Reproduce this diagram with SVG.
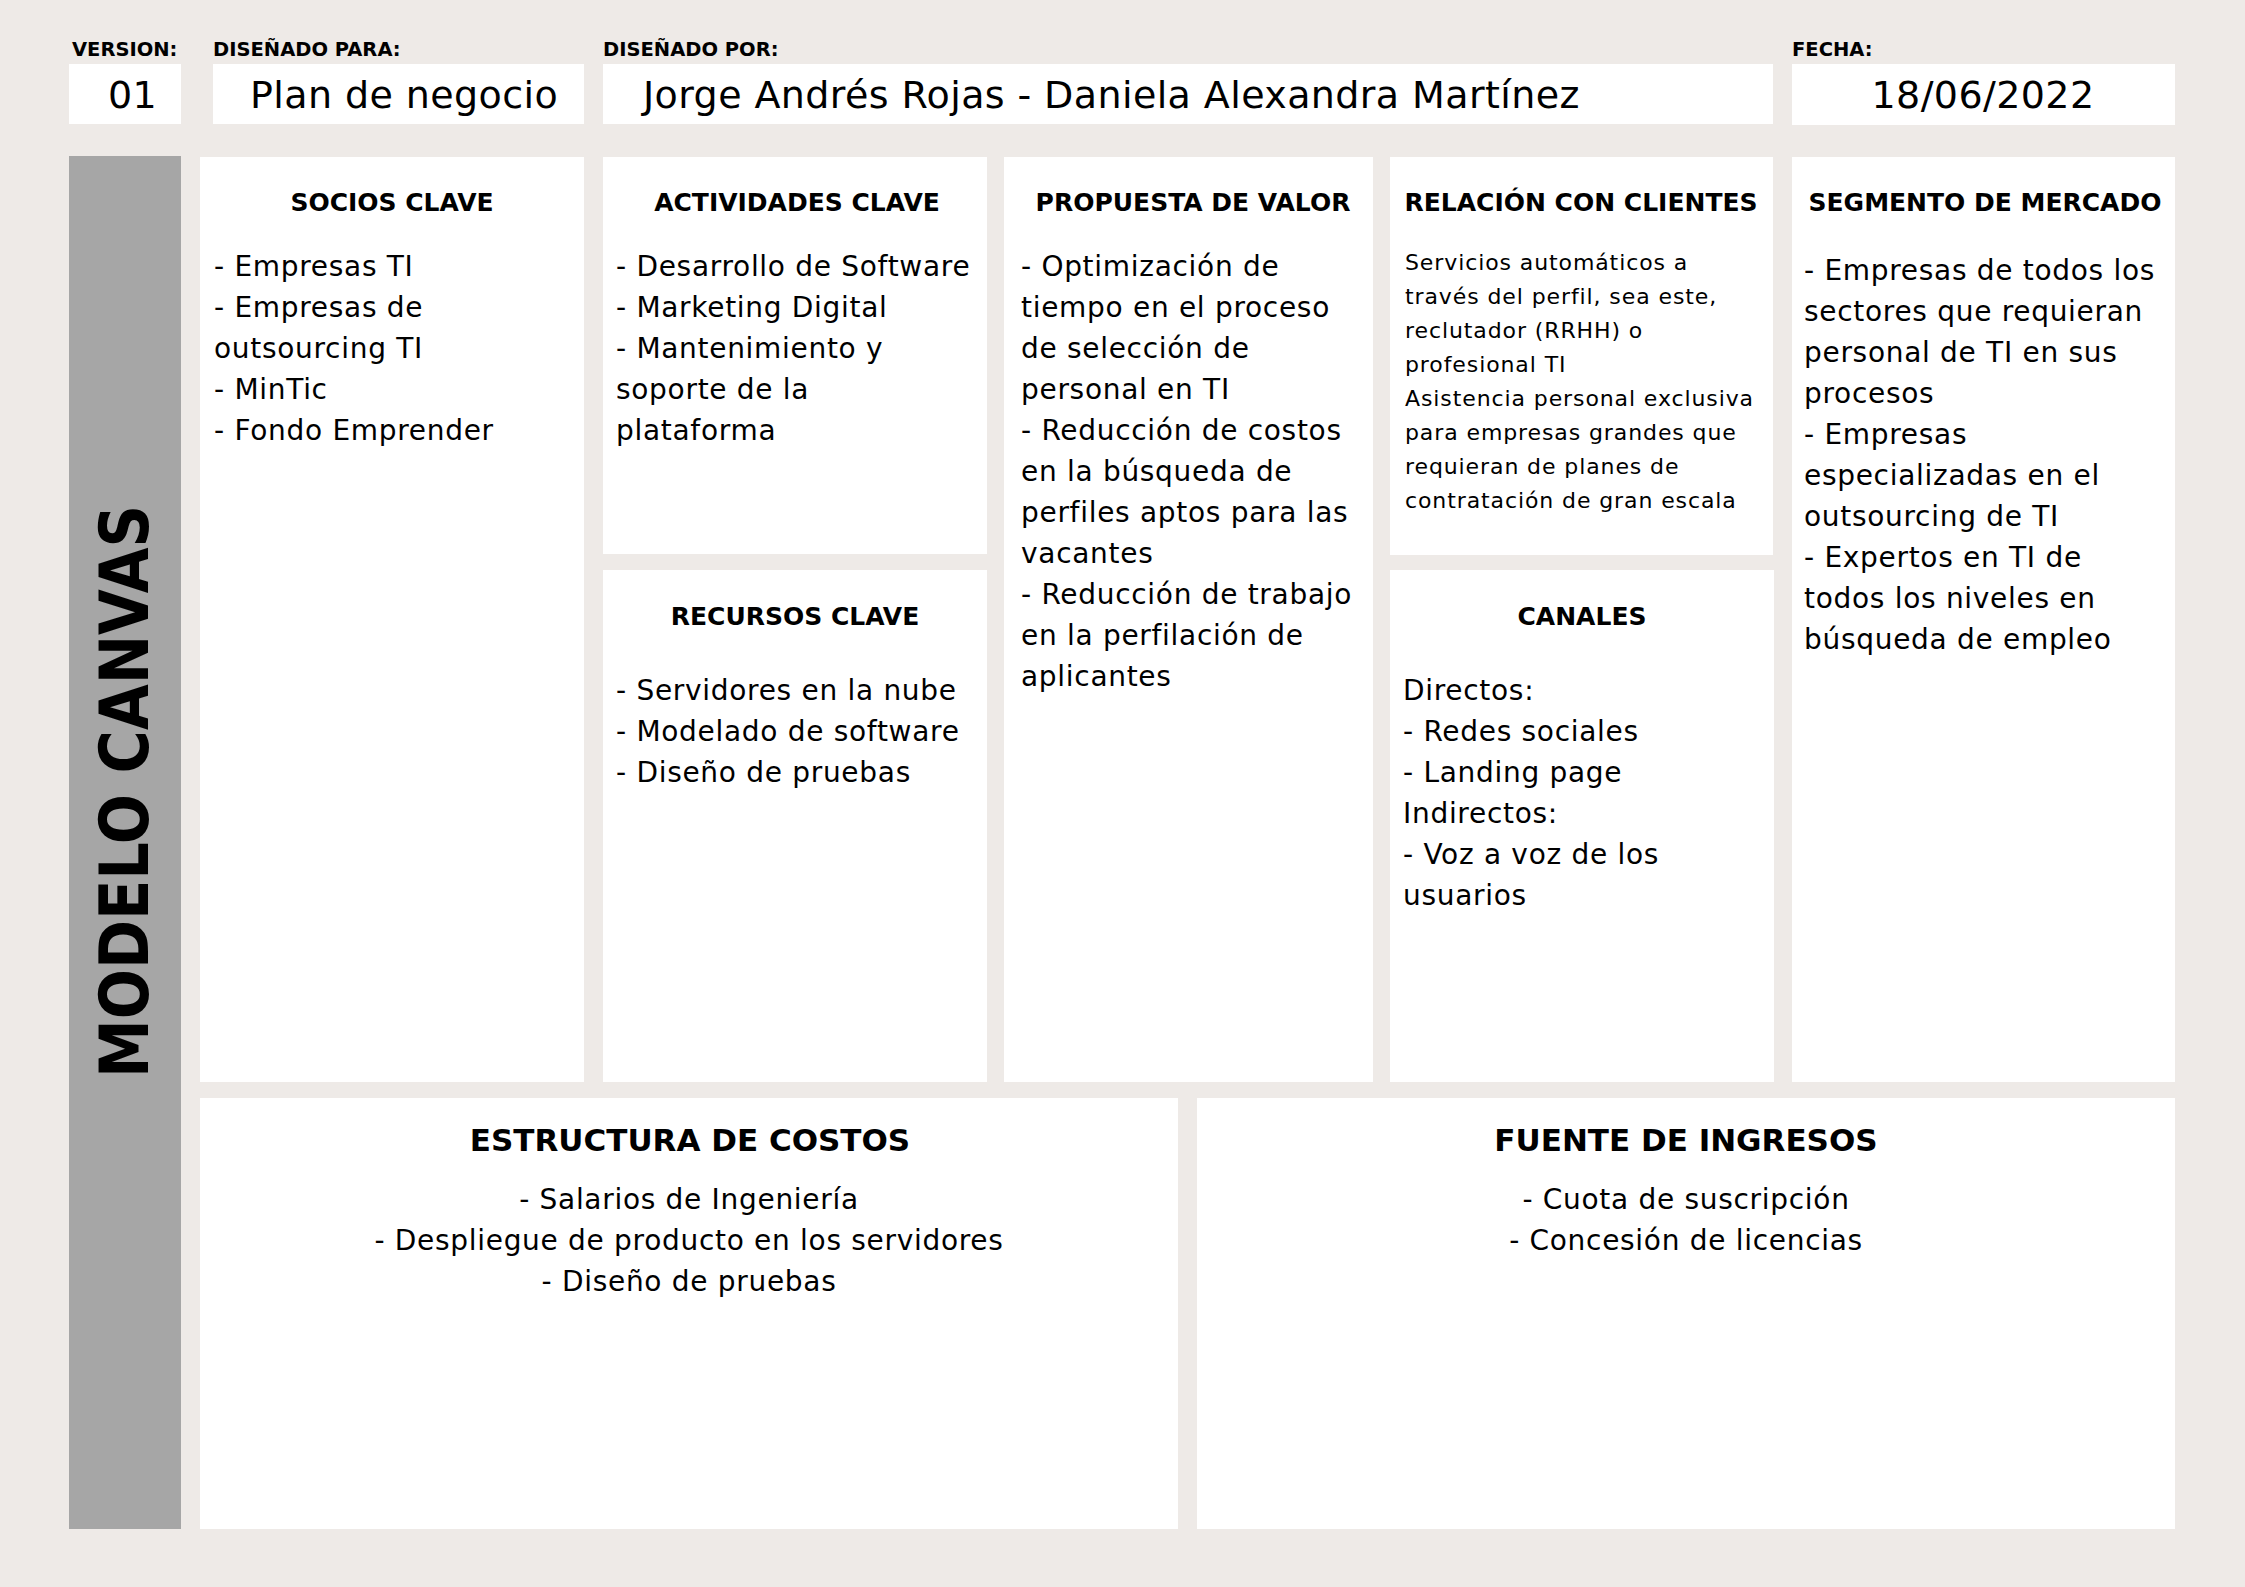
<svg xmlns="http://www.w3.org/2000/svg" width="2245" height="1587" viewBox="0 0 2245 1587">
<style>
.box{fill:#ffffff}
.lbl{font-family:"DejaVu Sans",sans-serif;font-weight:bold;font-size:19.5px;fill:#000}
.val{font-family:"DejaVu Sans",sans-serif;font-size:38px;letter-spacing:0.4px;fill:#000}
.h{font-family:"DejaVu Sans",sans-serif;font-weight:bold;font-size:25px;fill:#000;text-anchor:middle}
.hb{font-family:"DejaVu Sans",sans-serif;font-weight:bold;font-size:31px;fill:#000;text-anchor:middle}
.t{font-family:"DejaVu Sans",sans-serif;font-size:28px;letter-spacing:0.7px;fill:#000}
.c{text-anchor:middle}
.s{font-family:"DejaVu Sans",sans-serif;font-size:22px;letter-spacing:0.9px;fill:#000}
</style>
<rect x="0" y="0" width="2245" height="1587" fill="#EEEAE7"/>

<g id="version">
<text class="lbl" x="72" y="56">VERSION:</text>
<rect class="box" x="69" y="64" width="112" height="60"/>
<text class="val" x="108" y="108">01</text>
</g>
<g id="disenado-para">
<text class="lbl" x="213" y="56">DISEÑADO PARA:</text>
<rect class="box" x="213" y="64" width="371" height="60"/>
<text class="val" x="250" y="108">Plan de negocio</text>
</g>
<g id="disenado-por">
<text class="lbl" x="603" y="56">DISEÑADO POR:</text>
<rect class="box" x="603" y="64" width="1170" height="60"/>
<text class="val" x="643" y="108">Jorge Andrés Rojas - Daniela Alexandra Martínez</text>
</g>
<g id="fecha">
<text class="lbl" x="1792" y="56">FECHA:</text>
<rect class="box" x="1792" y="64" width="383" height="61"/>
<text class="val" x="1983" y="108" text-anchor="middle">18/06/2022</text>
</g>

<g id="modelo-canvas">
<rect x="69" y="156" width="112" height="1373" fill="#A6A6A6"/>
<text transform="translate(148,1078) rotate(-90)" font-family="DejaVu Sans, sans-serif" font-weight="bold" font-size="67" fill="#000" textLength="573" lengthAdjust="spacingAndGlyphs">MODELO CANVAS</text>
</g>

<g id="socios-clave">
<rect class="box" x="200" y="157" width="384" height="925"/>
<text class="h" x="392" y="211">SOCIOS CLAVE</text>
<text class="t" x="214" y="276">- Empresas TI</text>
<text class="t" x="214" y="317">- Empresas de</text>
<text class="t" x="214" y="358">outsourcing TI</text>
<text class="t" x="214" y="399">- MinTic</text>
<text class="t" x="214" y="440">- Fondo Emprender</text>
</g>

<g id="actividades-clave">
<rect class="box" x="603" y="157" width="384" height="397"/>
<text class="h" x="797" y="211">ACTIVIDADES CLAVE</text>
<text class="t" x="616" y="276">- Desarrollo de Software</text>
<text class="t" x="616" y="317">- Marketing Digital</text>
<text class="t" x="616" y="358">- Mantenimiento y</text>
<text class="t" x="616" y="399">soporte de la</text>
<text class="t" x="616" y="440">plataforma</text>
</g>

<g id="recursos-clave">
<rect class="box" x="603" y="570" width="384" height="512"/>
<text class="h" x="795" y="625">RECURSOS CLAVE</text>
<text class="t" x="616" y="700">- Servidores en la nube</text>
<text class="t" x="616" y="741">- Modelado de software</text>
<text class="t" x="616" y="782">- Diseño de pruebas</text>
</g>

<g id="propuesta-de-valor">
<rect class="box" x="1004" y="157" width="369" height="925"/>
<text class="h" x="1193" y="211">PROPUESTA DE VALOR</text>
<text class="t" x="1021" y="276">- Optimización de</text>
<text class="t" x="1021" y="317">tiempo en el proceso</text>
<text class="t" x="1021" y="358">de selección de</text>
<text class="t" x="1021" y="399">personal en TI</text>
<text class="t" x="1021" y="440">- Reducción de costos</text>
<text class="t" x="1021" y="481">en la búsqueda de</text>
<text class="t" x="1021" y="522">perfiles aptos para las</text>
<text class="t" x="1021" y="563">vacantes</text>
<text class="t" x="1021" y="604">- Reducción de trabajo</text>
<text class="t" x="1021" y="645">en la perfilación de</text>
<text class="t" x="1021" y="686">aplicantes</text>
</g>

<g id="relacion-con-clientes">
<rect class="box" x="1390" y="157" width="383" height="398"/>
<text class="h" x="1581" y="211">RELACIÓN CON CLIENTES</text>
<text class="s" x="1405" y="270">Servicios automáticos a</text>
<text class="s" x="1405" y="304">través del perfil, sea este,</text>
<text class="s" x="1405" y="338">reclutador (RRHH) o</text>
<text class="s" x="1405" y="372">profesional TI</text>
<text class="s" x="1405" y="406">Asistencia personal exclusiva</text>
<text class="s" x="1405" y="440">para empresas grandes que</text>
<text class="s" x="1405" y="474">requieran de planes de</text>
<text class="s" x="1405" y="508">contratación de gran escala</text>
</g>

<g id="canales">
<rect class="box" x="1390" y="570" width="384" height="512"/>
<text class="h" x="1582" y="625">CANALES</text>
<text class="t" x="1403" y="700">Directos:</text>
<text class="t" x="1403" y="741">- Redes sociales</text>
<text class="t" x="1403" y="782">- Landing page</text>
<text class="t" x="1403" y="823">Indirectos:</text>
<text class="t" x="1403" y="864">- Voz a voz de los</text>
<text class="t" x="1403" y="905">usuarios</text>
</g>

<g id="segmento-de-mercado">
<rect class="box" x="1792" y="157" width="383" height="925"/>
<text class="h" x="1985" y="211" font-size="24.5">SEGMENTO DE MERCADO</text>
<text class="t" x="1804" y="280">- Empresas de todos los</text>
<text class="t" x="1804" y="321">sectores que requieran</text>
<text class="t" x="1804" y="362">personal de TI en sus</text>
<text class="t" x="1804" y="403">procesos</text>
<text class="t" x="1804" y="444">- Empresas</text>
<text class="t" x="1804" y="485">especializadas en el</text>
<text class="t" x="1804" y="526">outsourcing de TI</text>
<text class="t" x="1804" y="567">- Expertos en TI de</text>
<text class="t" x="1804" y="608">todos los niveles en</text>
<text class="t" x="1804" y="649">búsqueda de empleo</text>
</g>

<g id="estructura-de-costos">
<rect class="box" x="200" y="1098" width="978" height="431"/>
<text class="hb" x="690" y="1151">ESTRUCTURA DE COSTOS</text>
<text class="t c" x="689" y="1209">- Salarios de Ingeniería</text>
<text class="t c" x="689" y="1250">- Despliegue de producto en los servidores</text>
<text class="t c" x="689" y="1291">- Diseño de pruebas</text>
</g>

<g id="fuente-de-ingresos">
<rect class="box" x="1197" y="1098" width="978" height="431"/>
<text class="hb" x="1686" y="1151">FUENTE DE INGRESOS</text>
<text class="t c" x="1686" y="1209">- Cuota de suscripción</text>
<text class="t c" x="1686" y="1250">- Concesión de licencias</text>
</g>

<g id="connectors"></g>
</svg>
